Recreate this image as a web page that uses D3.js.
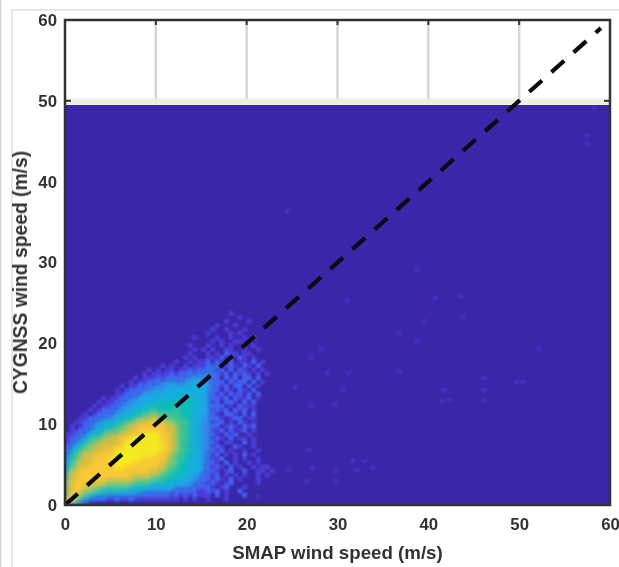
<!DOCTYPE html>
<html>
<head>
<meta charset="utf-8">
<script src="https://cdn.jsdelivr.net/npm/d3@7/dist/d3.min.js"></script>
<style>
html, body { margin: 0; padding: 0; background: #fff; }
svg { display: block; }
text { font-family: "Liberation Sans", Arial, sans-serif; font-weight: bold; fill: #333; }
</style>
</head>
<body>
<div id="Chart"></div>
<script>
const TickValues = [0, 10, 20, 30, 40, 50, 60];
const XLabel = "SMAP wind speed (m/s)";
const YLabel = "CYGNSS wind speed (m/s)";
const ImageTop = 49.5;
const IdentityLine = [0, 59];
const BinSize = 0.5;

// Histogram levels, 0.5 m/s bins. Top row is
// y = 24.5, bottom row is y = 0, each row starts at x = 0.
const DensityRows = [
    "0000000000 0000000000 0000000000 0000000000 0000000000",
    "0000000000 0000000000 0000000000 0000000000 0000000000",
    "0000000000 0000000000 0000000000 0000001000 0000000000",
    "0000000000 0000000000 0000000000 0000000010 0000000000",
    "0000000000 0000000000 0000000000 0000010000 1000000000",
    "0000000000 0000000000 0000000000 0001000100 0000000000",
    "0000000000 0000000000 0000000000 0010010001 0000000000",
    "0000000000 0000000000 0000000000 0100001010 0000000000",
    "0000000000 0000000000 0000000010 0001001001 0100000000",
    "0000000000 0000000000 0000000000 0010100110 1000000000",
    "0000000000 0000000000 0000000100 0100101001 0100000000",
    "0000000000 0000000000 0000000010 1010011001 0010000000",
    "0000000000 0000000000 0000000100 0101021101 1000000000",
    "0000000000 0000000000 0000001010 0110201021 0100000000",
    "0000000000 0000000000 0000100101 1202102011 0201000000",
    "0000000000 0000000000 0101001011 1232012102 1020000000",
    "0000000000 0000000010 1011011212 2231202021 0101000000",
    "0000000000 0000000101 1112122232 3322120212 1010100000",
    "0000000000 0000010111 2122223333 3322021202 2020000000",
    "0000000000 0000101122 2333323344 4322202122 0201000000",
    "0000000000 0010112223 3334344444 4332120220 2010000000",
    "0000000000 0101222333 3344444444 4322021021 0200000000",
    "0000000000 0112223334 4444444444 4321202120 2020000000",
    "0000000010 1122333444 4444445544 4322120211 2010000000",
    "0000000101 1223334444 4555555554 4312022102 0200000000",
    "0000001011 2233344455 5555555544 4322201021 1100000000",
    "0000010122 2334445556 5555655544 4312120212 0100000000",
    "0000101222 3344455667 6666655544 4321022102 0200000000",
    "0001122233 3445566778 7766665544 3322101220 1100000000",
    "0011223344 4556678889 8877666544 3312201021 0100000000",
    "0101223445 5667889999 9988766544 3322012102 1200000000",
    "0112234455 6677889999 9988766544 3311202012 0100000000",
    "1122345567 7788999aaa a998766544 3321021200 1000000000",
    "1223456677 8899aaaaaa a998766544 3312102011 0100000000",
    "1234567788 889aaaaaaa a998766544 3321011002 0100000000",
    "2345677888 899aaaaaaa aa98765544 3312100210 0100000000",
    "2456778889 9aaaaaaaaa a998766544 3321201001 0010000000",
    "3567888999 9aaaaaaaaa 9987665544 3212010102 0100000000",
    "3567889999 aaaaaaa999 9987665544 3311200101 0010000000",
    "4678889999 aaaaa99999 9877655444 3221020100 1010000000",
    "4678899999 9aa9999999 8876655444 3212102010 0101100000",
    "5789999999 9999999988 8766555444 3221012002 0011010000",
    "6889999999 9999888887 7665554443 2212010101 0010100000",
    "6889999998 8888877776 6655544433 2212102010 0010000000",
    "7899998887 7777766665 5554444332 2121012000 0010000000",
    "7899887766 6666555544 4444333322 2210120001 0000000000",
    "7898776655 5554444433 3333222221 1212010020 0000000000",
    "7987654443 3333332222 2221212121 1102010002 0000000000",
    "8976432221 1211211111 1111101010 0100010000 0000000000",
    "8642100000 0000000000 0000000000 0000000000 0000000000"
];

// Isolated bins out past the dense part of the histogram.
const StrayX = [26.8, 29.4, 26.6, 28, 26.8, 28.6, 25.1, 30.3, 31, 30.8, 32.7, 33.6, 31.4, 29.5, 31.9, 29.5, 26.4, 27, 24.4, 41.5, 42, 41.2, 45.9, 45.9, 45.9, 49.4, 50.1, 51.9, 57.2, 57.2, 38.5, 40.5, 43.5, 39.3, 38.5, 43.3, 58, 24.2, 36.5, 36.5, 21];
const StrayY = [12, 12.2, 6.6, 19, 18, 16.1, 14.4, 14, 16.1, 25, 5.2, 4.4, 5.2, 4, 4.1, 2.7, 2.7, 4.3, 4.1, 14, 12.8, 12.7, 15.5, 14, 12.7, 15, 15, 19.1, 45.5, 44.5, 28.8, 25.4, 23, 22.5, 20, 25.6, 48.9, 36.2, 16.3, 21, 0.9];
const StrayLevel = 0.6;

const LevelStops = [0, 1, 2, 3, 4, 5, 6, 7, 8, 9, 10];
const LevelColors = ["#3a26a8", "#4a3cd6", "#3f62f2", "#2f8ef0", "#17aee0", "#0dbdb8", "#3ec692", "#8ec95f", "#dfc03c", "#fccb34", "#f8ee1a"];

const Width = 619;
const Height = 567;
const Margin = {top: 20, right: 9, bottom: 62, left: 65};
const WidthInner = Width - Margin.left - Margin.right;
const HeightInner = Height - Margin.top - Margin.bottom;

let ScaleX = d3.scaleLinear().domain([0, 60]).range([0, WidthInner]);
let ScaleY = d3.scaleLinear().domain([0, 60]).range([HeightInner, 0]);
let ScaleColor = d3.scaleLinear().domain(LevelStops).range(LevelColors);

let Canvas = d3.select("#Chart").append("svg")
    .attr("width", Width).attr("height", Height);

let Defs = Canvas.append("defs");
for(let [Id, Amount] of [["SmearCore", 2], ["SmearSpeckle", 0.9], ["Soft", 0.45]])
{
    Defs.append("filter").attr("id", Id)
        .attr("x", "-5%").attr("y", "-5%").attr("width", "110%").attr("height", "110%")
        .append("feGaussianBlur").attr("stdDeviation", Amount);
}
Defs.append("clipPath").attr("id", "ImageClip").append("rect")
    .attr("x", 0).attr("y", ScaleY(ImageTop))
    .attr("width", WidthInner).attr("height", ScaleY(0) - ScaleY(ImageTop));

// The page the figure was pasted on
Canvas.append("rect").attr("x", 12).attr("y", 10).attr("width", Width).attr("height", Height)
    .attr("fill", "none").attr("stroke", "#cfcfcf");
Canvas.append("rect").attr("x", 0).attr("y", 0).attr("width", 1.5).attr("height", Height)
    .attr("fill", "#d8d8d8");

let Plot = Canvas.append("g")
    .attr("transform", `translate(${Margin.left}, ${Margin.top})`);

// Grid only shows in the band over the image
Plot.append("g").selectAll("line").data(TickValues.slice(1, -1)).join("line")
    .attr("x1", d => ScaleX(d)).attr("x2", d => ScaleX(d))
    .attr("y1", ScaleY(60)).attr("y2", ScaleY(ImageTop))
    .attr("stroke", "#d6d6d6").attr("stroke-width", 2.5);
Plot.append("rect")
    .attr("x", 0).attr("width", WidthInner)
    .attr("y", ScaleY(50.3)).attr("height", ScaleY(ImageTop) - ScaleY(50.3))
    .attr("fill", "#f0efe6");

let Image = Plot.append("g").attr("clip-path", "url(#ImageClip)");
Image.append("rect")
    .attr("x", 0).attr("y", ScaleY(ImageTop))
    .attr("width", WidthInner).attr("height", ScaleY(0) - ScaleY(ImageTop))
    .attr("fill", ScaleColor(0));

let Cells = [];
DensityRows.forEach((Row, RowIndex) => {
    let Levels = Row.replace(/ /g, "");
    let YBin = (DensityRows.length - 1 - RowIndex) * BinSize;
    for(let i = 0; i < Levels.length; i++)
    {
        let Level = parseInt(Levels[i], 11);
        if(Level > 0)
        {
            Cells.push({x: i * BinSize, y: YBin, level: Level});
        }
    }
});
StrayX.forEach((x, i) => Cells.push({x: x, y: StrayY[i], level: StrayLevel}));

function drawCells(Group, Data, Filter)
{
    Group.append("g").attr("filter", `url(#${Filter})`)
        .selectAll("rect").data(Data).join("rect")
        .attr("x", d => ScaleX(d.x))
        .attr("y", d => ScaleY(d.y + BinSize))
        .attr("width", ScaleX(BinSize) - ScaleX(0) + 0.4)
        .attr("height", ScaleY(0) - ScaleY(BinSize) + 0.4)
        .attr("fill", d => ScaleColor(d.level));
}

// Sparse bins stay speckled, the dense part is smooth in the original
drawCells(Image, Cells.filter(d => d.level < 3), "SmearSpeckle");
drawCells(Image, Cells.filter(d => d.level >= 3), "SmearCore");

let Line = d3.line().x(d => ScaleX(d)).y(d => ScaleY(d));
Plot.append("path").attr("d", Line(IdentityLine))
    .attr("fill", "none").attr("stroke", "#0a0a14")
    .attr("stroke-width", 4.2).attr("stroke-dasharray", "17 12.6");

let Frame = Plot.append("g").attr("filter", "url(#Soft)");

var AxisX = d3.axisBottom(ScaleX).tickValues(TickValues).tickSize(0).tickPadding(13);
var AxisY = d3.axisLeft(ScaleY).tickValues(TickValues).tickSize(0).tickPadding(8);
let GroupX = Frame.append("g").attr("transform", `translate(0, ${HeightInner})`).call(AxisX);
let GroupY = Frame.append("g").call(AxisY);
for(let Group of [GroupX, GroupY])
{
    Group.select(".domain").remove();
    Group.selectAll("text").attr("font-size", 16.8);
    Group.attr("font-family", null).attr("font-size", null);
}

// Inward ticks, visible on the white band
Frame.append("g").selectAll("line").data(TickValues.slice(1, -1)).join("line")
    .attr("x1", d => ScaleX(d)).attr("x2", d => ScaleX(d))
    .attr("y1", ScaleY(60)).attr("y2", ScaleY(60) + 5)
    .attr("stroke", "#333").attr("stroke-width", 2);
Frame.append("line")
    .attr("x1", 0).attr("x2", 6).attr("y1", ScaleY(50)).attr("y2", ScaleY(50))
    .attr("stroke", "#333").attr("stroke-width", 2);
Frame.append("line")
    .attr("x1", WidthInner - 6).attr("x2", WidthInner).attr("y1", ScaleY(50)).attr("y2", ScaleY(50))
    .attr("stroke", "#333").attr("stroke-width", 2);
Frame.append("rect")
    .attr("x", 0).attr("y", 0).attr("width", WidthInner).attr("height", HeightInner)
    .attr("fill", "none").attr("stroke", "#333").attr("stroke-width", 2.5);

Frame.append("text")
    .attr("x", ScaleX(30)).attr("y", HeightInner + 54)
    .attr("text-anchor", "middle").attr("font-size", 18.7).text(XLabel);
Frame.append("text")
    .attr("transform", `translate(-38, ${ScaleY(30) + 10}) rotate(-90)`)
    .attr("text-anchor", "middle").attr("font-size", 19.3).text(YLabel);
</script>
</body>
</html>
